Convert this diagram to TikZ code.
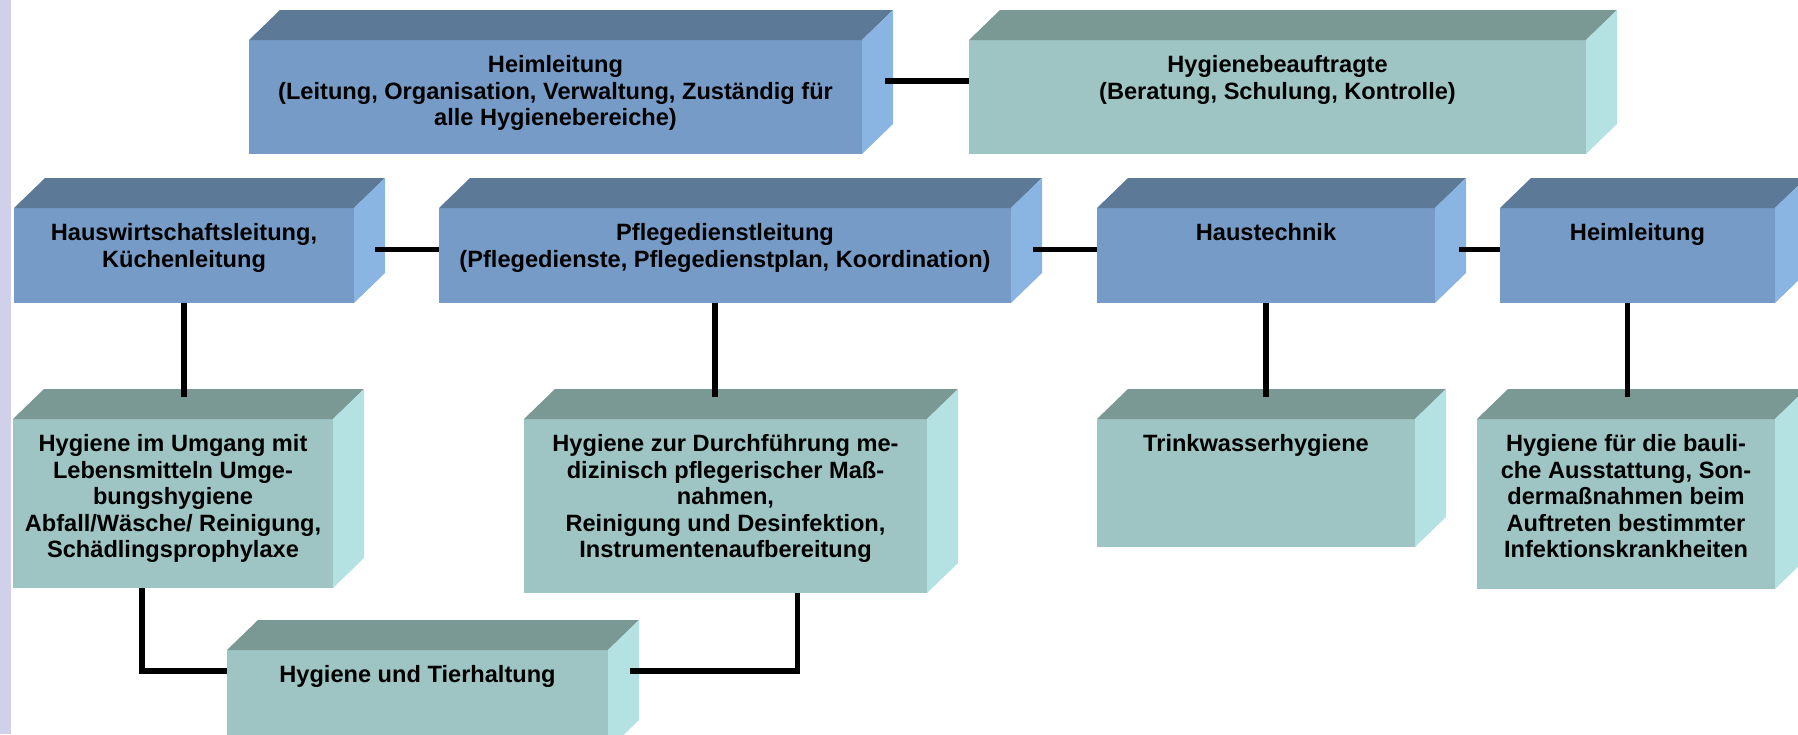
\documentclass[tikz,border=0pt]{standalone}
\usepackage{fontspec}
\setmainfont{Liberation Sans}
\usepackage{tikz}
\usetikzlibrary{calc}

\definecolor{blaufront}{HTML}{769BC6}
\definecolor{blautop}{HTML}{5C7A98}
\definecolor{blauseite}{HTML}{8AB4E2}
\definecolor{tuerkisfront}{HTML}{9EC4C4}
\definecolor{tuerkistop}{HTML}{7A9894}
\definecolor{tuerkisseite}{HTML}{B4E2E2}
\definecolor{streifen}{HTML}{D0D0EA}

\newcommand{\quader}[7]{%
  \node[front, fill=#6front, minimum width=#4*0.5pt, minimum height=#5*0.5pt] (#1) at (#2,#3) {};
  \fill[#6top] (#1.north west) -- ++(31,-30) -- ($(#1.north east)+(31,-30)$) -- (#1.north east) -- cycle;
  \fill[#6seite] (#1.north east) -- ++(31,-30) -- ($(#1.south east)+(31,-30)$) -- (#1.south east) -- cycle;
  \node[beschriftung] (#1-text) at ($(#1.north)+(0,15)$) {#7};
}

\begin{document}
\begin{tikzpicture}[
    x=0.5pt, y=-0.5pt,
    front/.style={rectangle, draw=none, inner sep=0pt, outer sep=0pt, anchor=north west},
    beschriftung/.style={align=center, inner sep=0pt, anchor=north, font=\bfseries\fontsize{11.8pt}{13.3pt}\selectfont},
    link/.style={line width=2.75pt, black},
  ]
  \useasboundingbox (0,0) rectangle (1798,734);
  \fill[streifen] (0,0) rectangle (11,734);

  \quader{hl}{249}{40}{613}{114}{blau}{Heimleitung\\(Leitung, Organisation, Verwaltung, Zuständig für\\alle Hygienebereiche)}
  \quader{hb}{969}{40}{617}{114}{tuerkis}{Hygienebeauftragte\\(Beratung, Schulung, Kontrolle)}

  \quader{hw}{14}{208}{340}{95}{blau}{Hauswirtschaftsleitung,\\Küchenleitung}
  \quader{pd}{439}{208}{572}{95}{blau}{Pflegedienstleitung\\(Pflegedienste, Pflegedienstplan, Koordination)}
  \quader{ht}{1097}{208}{338}{95}{blau}{Haustechnik}
  \quader{hz}{1500}{208}{275}{95}{blau}{Heimleitung}

  \quader{hu}{13}{419}{320}{169}{tuerkis}{Hygiene im Umgang mit\\Lebensmitteln Umge-\\bungshygiene\\Abfall/Wäsche/ Reinigung,\\Schädlingsprophylaxe}
  \quader{hd}{524}{419}{403}{174}{tuerkis}{Hygiene zur Durchführung me-\\dizinisch pflegerischer Maß-\\nahmen,\\Reinigung und Desinfektion,\\Instrumentenaufbereitung}
  \quader{tw}{1097}{419}{318}{128}{tuerkis}{Trinkwasserhygiene}
  \quader{bh}{1477}{419}{298}{170}{tuerkis}{Hygiene für die bauli-\\che Ausstattung, Son-\\dermaßnahmen beim\\Auftreten bestimmter\\Infektionskrankheiten}

  \quader{th}{227}{650}{381}{100}{tuerkis}{Hygiene und Tierhaltung}

  \draw[link] ($(hl.east)+(23,-16)$) -- ($(hb.west)+(0,-16)$);
  \draw[link] ($(hw.east)+(21,-6)$) -- ($(pd.west)+(0,-6)$);
  \draw[link] ($(pd.east)+(22,-6)$) -- ($(ht.west)+(0,-6)$);
  \draw[link] ($(ht.east)+(24,-6)$) -- ($(hz.west)+(0,-6)$);

  \draw[link] (hw.south) -- ($(hw.south |- hu.north)+(0,-22)$);
  \draw[link] ($(pd.south)+(-10,0)$) -- ($(pd.south |- hd.north)+(-10,-22)$);
  \draw[link] (ht.south) -- ($(ht.south |- tw.north)+(0,-22)$);
  \draw[link] ($(hz.south)+(-10,0)$) -- ($(hz.south |- bh.north)+(-10,-22)$);

  \draw[link] ($(hu.south)+(-31,0)$) |- ($(th.north west)+(0,21)$);
  \draw[link] ($(hd.south)+(72,0)$) |- ($(th.north east)+(22,21)$);
\end{tikzpicture}
\end{document}
